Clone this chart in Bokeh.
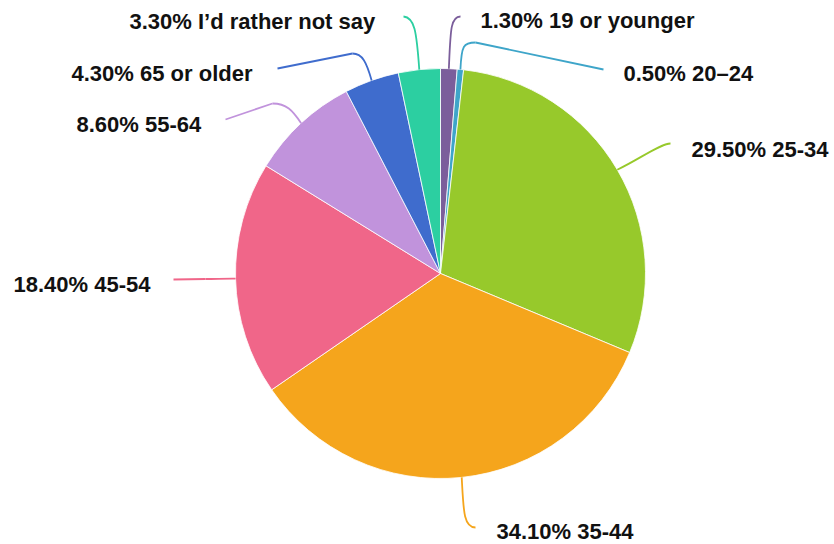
import math
from bokeh.plotting import figure
from bokeh.models import Range1d, ColumnDataSource
from bokeh.embed import file_html
from bokeh.resources import INLINE
from bokeh.core.properties import value

# ---- data ----
categories = ["19 or younger", "20–24", "25-34", "35-44", "45-54", "55-64", "65 or older", "I’d rather not say"]
shares = [1.3, 0.5, 29.5, 34.1, 18.4, 8.6, 4.3, 3.3]
colors = ["#7b5e9b", "#3ea5c9", "#97c92b", "#f5a51c", "#f06689", "#c193dc", "#3f6ccd", "#2ccfa1"]

# ---- layout (page pixel coordinates) ----
W, H = 834, 544
CX, CY, R = 440, 273, 205
TEXT_SHIFT = 8.5

def Y(py):
    return H - py

# label anchors: left x, baseline y
label_pos = [(480, 28.5), (623, 81), (691, 157), (496, 539), (13, 292.5), (76, 132), (71, 81.5), (129, 29)]
# leader: end of curve, control1, control2, optional straight tail end
leaders = [
    ((460, 16), (450, 30), (450, 16), None),
    ((475, 42), (461, 45), (463, 42), (603, 69)),
    ((670, 143), (640, 158), (660, 143), None),
    ((475, 527), (463, 510), (463, 527), None),
    ((205, 278.5), (225, 278), (215, 278.5), (173, 279)),
    ((272, 103), (292, 110), (286, 103), (225, 119)),
    ((352, 53), (366, 62), (362, 53), (277, 68)),
    ((403, 16), (416, 30), (414, 17), None),
]

p = figure(width=W, height=H, x_range=Range1d(0, W), y_range=Range1d(0, H),
           output_backend="svg", toolbar_location=None, min_border=0,
           x_axis_type=None, y_axis_type=None)
p.grid.visible = False
p.outline_line_color = None
p.background_fill_color = "white"
p.border_fill_color = "white"

total = sum(shares)
starts, ends, mids = [], [], []
cum = 0.0
for s in shares:
    a0 = math.pi / 2 - 2 * math.pi * cum / total
    cum += s
    a1 = math.pi / 2 - 2 * math.pi * cum / total
    starts.append(a0)
    ends.append(a1)
    mids.append((a0 + a1) / 2)

src = ColumnDataSource(dict(start=starts, end=ends, color=colors, cat=categories, share=shares))
p.wedge(x=CX, y=Y(CY), radius=R, start_angle="start", end_angle="end", direction="clock",
        fill_color="color", line_color="white", line_width=0.8, source=src)

# leader lines
for i, (end, c0, c1, tail) in enumerate(leaders):
    sx = CX + R * math.cos(mids[i])
    sy = Y(CY) + R * math.sin(mids[i])
    p.bezier(x0=[sx], y0=[sy], x1=[end[0]], y1=[Y(end[1])],
             cx0=[c0[0]], cy0=[Y(c0[1])], cx1=[c1[0]], cy1=[Y(c1[1])],
             line_color=colors[i], line_width=1.8)
    if tail is not None:
        p.segment(x0=[end[0]], y0=[Y(end[1])], x1=[tail[0]], y1=[Y(tail[1])],
                  line_color=colors[i], line_width=1.8)

texts = ["%.2f%% %s" % (s, c) for s, c in zip(shares, categories)]
p.text(x=[lp[0] for lp in label_pos], y=[Y(lp[1] - TEXT_SHIFT) for lp in label_pos], text=texts,
       text_font=value("Liberation Sans"), text_font_style="bold", text_font_size="22px",
       text_baseline="alphabetic", text_align="left", text_color="#111111")

open("out.html", "w").write(file_html(p, INLINE))
